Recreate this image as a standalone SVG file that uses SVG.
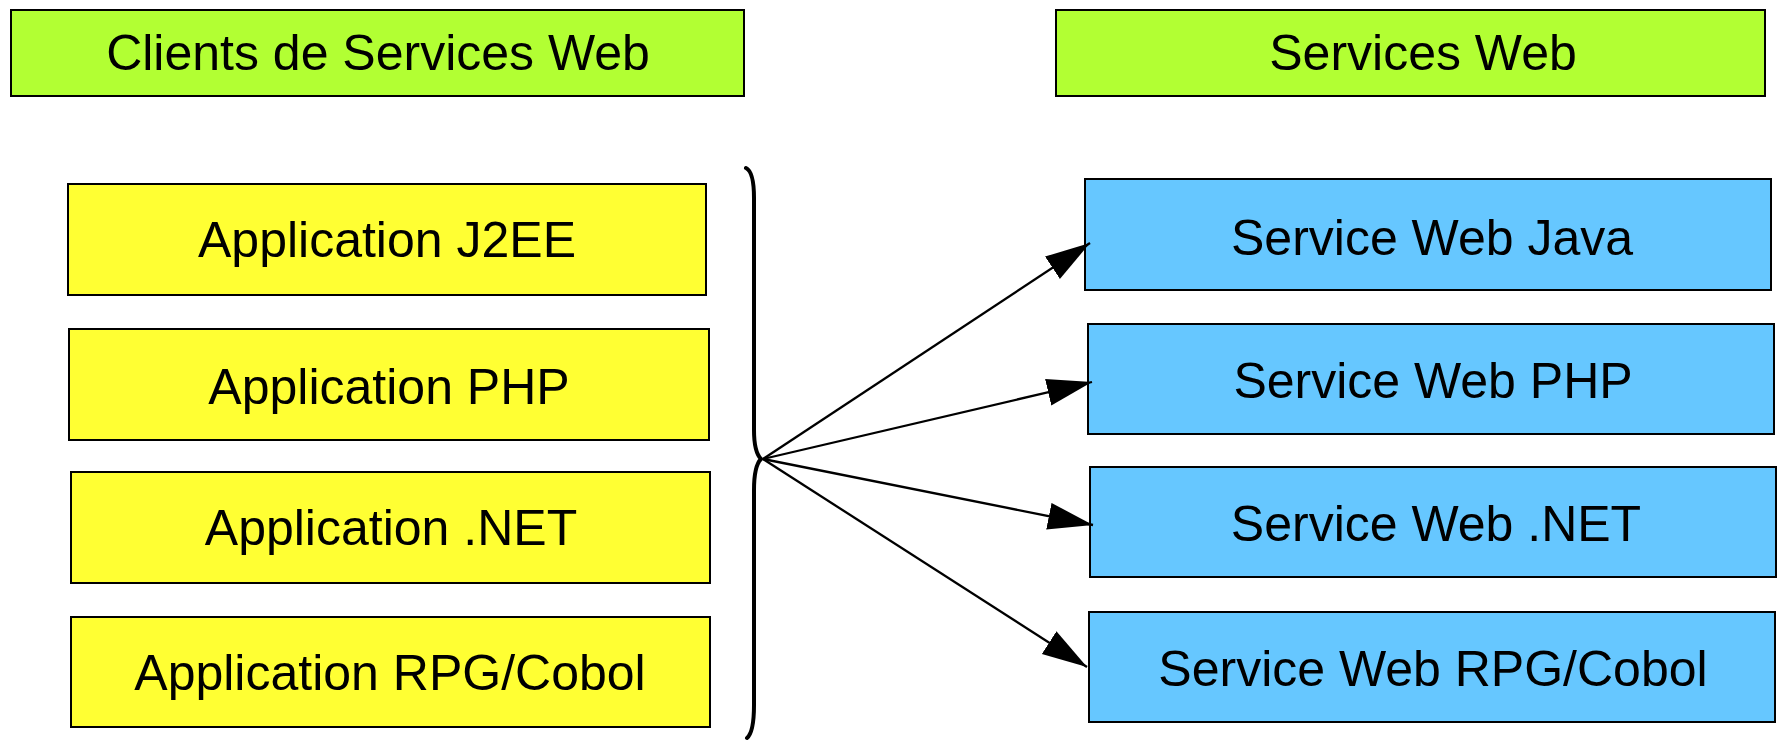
<svg xmlns="http://www.w3.org/2000/svg" width="1778" height="741" viewBox="0 0 1778 741">
<style>
.box{stroke:#000;stroke-width:2}
.hdr{fill:#b2ff33}
.cli{fill:#ffff33}
.srv{fill:#66c7ff}
text{font-family:"Liberation Sans",Arial,sans-serif;font-size:50px;fill:#000;text-anchor:middle}
.conn{stroke:#000;stroke-width:2.3;fill:none}
.brace{stroke:#000;stroke-width:4;fill:none;stroke-linecap:round;stroke-linejoin:round}
</style>
<defs>
<marker id="ah" markerUnits="userSpaceOnUse" markerWidth="48" markerHeight="30" refX="45" refY="13.5" orient="auto">
<path d="M0,0 L45,13.5 L0,27 z" fill="#000"/>
</marker>
</defs>
<rect width="1778" height="741" fill="#fff"/>
<g id="hdr-clients"><rect class="box hdr" x="11" y="10" width="733" height="86"/><text x="378" y="70">Clients de Services Web</text></g>
<g id="hdr-services"><rect class="box hdr" x="1056" y="10" width="709" height="86"/><text x="1423" y="70">Services Web</text></g>
<g id="app-j2ee"><rect class="box cli" x="68" y="184" width="638" height="111"/><text x="387" y="257">Application J2EE</text></g>
<g id="app-php"><rect class="box cli" x="69" y="329" width="640" height="111"/><text x="389" y="404">Application PHP</text></g>
<g id="app-net"><rect class="box cli" x="71" y="472" width="639" height="111"/><text x="391" y="545">Application .NET</text></g>
<g id="app-rpg"><rect class="box cli" x="71" y="617" width="639" height="110"/><text x="390" y="690">Application RPG/Cobol</text></g>
<g id="ws-java"><rect class="box srv" x="1085" y="179" width="686" height="111"/><text x="1432" y="255">Service Web Java</text></g>
<g id="ws-php"><rect class="box srv" x="1088" y="324" width="686" height="110"/><text x="1433" y="398">Service Web PHP</text></g>
<g id="ws-net"><rect class="box srv" x="1090" y="467" width="686" height="110"/><text x="1436" y="541">Service Web .NET</text></g>
<g id="ws-rpg"><rect class="box srv" x="1089" y="612" width="686" height="110"/><text x="1433" y="686">Service Web RPG/Cobol</text></g>
<g id="connectors">
<path class="brace" d="M746,168 Q754,172 754,198 L754,430 Q754,452 761,459 Q754,466 754,490 L754,705 Q754,732 747,738"/>
<line class="conn" x1="763" y1="459" x2="1090" y2="243" marker-end="url(#ah)"/>
<line class="conn" x1="763" y1="459" x2="1092" y2="382" marker-end="url(#ah)"/>
<line class="conn" x1="763" y1="459" x2="1093" y2="525" marker-end="url(#ah)"/>
<line class="conn" x1="763" y1="459" x2="1087" y2="667" marker-end="url(#ah)"/>
</g>
</svg>
